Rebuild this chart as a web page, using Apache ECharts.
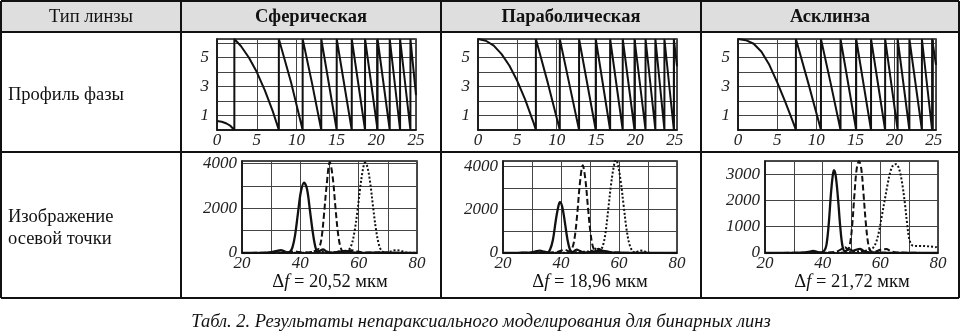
<!DOCTYPE html>
<html>
<head>
<meta charset="utf-8">
<script src="https://cdn.jsdelivr.net/npm/echarts@6/dist/echarts.min.js"></script>
<style>
  html, body { margin: 0; padding: 0; background: #fff; }
  #chart { width: 962px; height: 334px; }
</style>
</head>
<body>
<div id="chart"></div>
<script>
// column headers and row titles
const lensTypes = ['Сферическая', 'Параболическая', 'Асклинза'];
const rowTitles = ['Тип линзы', 'Профиль фазы', 'Изображение', 'осевой точки'];
const focusSpread = ['20,52', '18,96', '21,72'];
const caption = 'Табл. 2. Результаты непараксиального моделирования для бинарных линз';

// phase profile (radius, phase)
const phaseSpherical = [
  [0, 0.62], [0.6, 0.57], [1.2, 0.45], [1.7, 0.28], [2.18, 0],
  [2.18, 6.28], [3, 5.8], [4, 5.0], [5, 4.0], [6, 2.75], [7, 1.3], [7.77, 0],
  [7.77, 6.28], [9.3, 3.3], [10.76, 0],
  [10.76, 6.28], [11.95, 3.2], [13.1, 0],
  [13.1, 6.28], [15.04, 0],
  [15.04, 6.28], [16.93, 0],
  [16.93, 6.28], [18.6, 0],
  [18.6, 6.28], [20.17, 0],
  [20.17, 6.28], [21.7, 0],
  [21.7, 6.28], [23.0, 0],
  [23.0, 6.28], [24.3, 0],
  [24.3, 6.28], [25.0, 2.4]
];
const phaseParabolic = [
  [0, 6.28], [1, 6.16], [2, 5.82], [3, 5.24], [4, 4.43], [5, 3.38], [6, 2.1], [7, 0.6], [7.36, 0],
  [7.36, 6.28], [8.9, 3.2], [10.4, 0],
  [10.4, 6.28], [11.6, 3.2], [12.85, 0],
  [12.85, 6.28], [14.97, 0],
  [14.97, 6.28], [16.8, 0],
  [16.8, 6.28], [18.4, 0],
  [18.4, 6.28], [19.9, 0],
  [19.9, 6.28], [21.3, 0],
  [21.3, 6.28], [22.55, 0],
  [22.55, 6.28], [23.7, 0],
  [23.7, 6.28], [24.9, 0],
  [24.9, 6.28], [25.3, 4.4]
];
const phaseAxilens = [
  [0, 6.28], [1, 6.2], [2, 5.95], [3, 5.4], [4, 4.5], [5, 3.3], [6, 2.0], [7, 0.6], [7.4, 0],
  [7.4, 6.28], [9.0, 3.2], [10.6, 0],
  [10.6, 6.28], [11.85, 3.2], [13.1, 0],
  [13.1, 6.28], [15.1, 0],
  [15.1, 6.28], [17.0, 0],
  [17.0, 6.28], [18.8, 0],
  [18.8, 6.28], [20.4, 0],
  [20.4, 6.28], [21.9, 0],
  [21.9, 6.28], [23.5, 0],
  [23.5, 6.28], [24.8, 0],
  [24.8, 6.28], [25.3, 4.5]
];
const phaseMax = [25, 25.3, 25.3];

// axial intensity (position in um, intensity): solid, dashed, dotted
const sphSolid = [[20, 0], [24, 10], [27, 5], [30, 40], [32, 100], [33.3, 130], [34.5, 80], [35.5, 20], [36.5, 60], [37.3, 250], [38.2, 800], [39.2, 1800], [40.2, 2750], [41.3, 3150], [42.3, 2850], [43.3, 1900], [44.3, 900], [45.2, 250], [46, 40], [46.8, 100], [47.8, 160], [48.8, 80], [50, 20], [52, 30], [54, 70], [55.5, 90], [57, 50], [59, 20], [62, 10], [66, 20], [70, 10], [75, 5], [80, 0]];
const sphDashed = [[20, 0], [28, 10], [33, 20], [36, 40], [38, 70], [39.5, 40], [42, 20], [44, 60], [45.5, 120], [46.5, 250], [47.3, 700], [48.1, 1700], [49, 3000], [50.1, 4080], [51.1, 3400], [52, 2100], [52.9, 900], [53.8, 250], [54.8, 60], [56, 80], [57.5, 120], [59, 90], [61, 30], [64, 20], [68, 30], [72, 10], [80, 0]];
const sphDotted = [[20, 0], [30, 5], [40, 10], [44, 40], [46, 90], [48, 60], [50, 20], [52, 40], [54, 90], [55.5, 60], [56.5, 120], [57.5, 350], [58.5, 900], [59.5, 1800], [60.5, 2900], [61.4, 3700], [62.2, 4050], [63, 3850], [64, 3100], [65, 2000], [66, 1000], [67, 350], [68, 80], [69.3, 20], [70.8, 60], [72.5, 120], [74, 110], [75.5, 50], [77, 15], [80, 5]];

const parSolid = [[20, 0], [25, 10], [29, 20], [31, 60], [32.7, 110], [34.2, 60], [35.3, 30], [36.2, 150], [37.2, 600], [38.2, 1500], [39, 2100], [39.6, 2350], [40.4, 2150], [41.3, 1450], [42.2, 650], [43.1, 150], [44, 40], [45.4, 160], [46.6, 90], [48, 20], [50, 40], [52, 80], [54.6, 100], [56.5, 50], [58, 20], [62, 10], [70, 5], [80, 0]];
const parDashed = [[20, 0], [30, 10], [36, 20], [39, 60], [41.3, 150], [42.8, 80], [43.8, 200], [44.7, 700], [45.6, 1800], [46.5, 3200], [47.5, 4050], [48.4, 3400], [49.3, 2100], [50.2, 900], [51.1, 250], [52, 150], [53, 200], [54.5, 80], [56, 30], [60, 20], [65, 10], [80, 0]];
const parDotted = [[20, 0], [30, 5], [40, 10], [45, 30], [48, 60], [50, 80], [51.5, 150], [52.4, 220], [53.3, 150], [54.2, 250], [55.2, 800], [56.2, 1900], [57.2, 3100], [58.2, 4000], [58.9, 4300], [59.6, 4100], [60.6, 3300], [61.6, 2200], [62.6, 1100], [63.6, 400], [64.6, 100], [65.6, 20], [66.5, 70], [67.5, 110], [68.5, 90], [69.5, 30], [71, 5], [80, 0]];

const axSolid = [[20, 0], [30, 5], [34, 20], [35.5, 50], [36.7, 80], [38, 40], [39.5, 20], [40.5, 80], [41.3, 300], [42.1, 1100], [42.9, 2300], [43.5, 2950], [43.9, 3150], [44.5, 2950], [45.3, 2100], [46.1, 1000], [46.9, 250], [47.8, 60], [48.6, 120], [49.4, 140], [50.5, 80], [51.5, 120], [52.9, 160], [54, 90], [55.5, 30], [58, 20], [62, 10], [70, 5], [80, 0]];
const axDashed = [[20, 0], [35, 10], [42, 20], [45, 60], [46.5, 150], [47.7, 220], [48.7, 150], [49.4, 300], [50.2, 1000], [51, 2200], [51.8, 3200], [52.6, 3500], [53.4, 3200], [54.2, 2200], [55, 1100], [55.8, 350], [56.6, 80], [58, 50], [60, 120], [62.1, 150], [63.5, 80], [65, 30], [70, 10], [80, 0]];
const axDotted = [[20, 0], [40, 5], [48, 20], [52, 60], [54, 80], [55.5, 100], [56.8, 150], [57.5, 200], [58.5, 400], [59.5, 800], [60.5, 1400], [61.5, 2000], [62.5, 2600], [63.5, 3100], [64.5, 3350], [65.5, 3380], [66.5, 3200], [67.5, 2700], [68.5, 1900], [69.3, 1100], [70, 550], [70.8, 320], [71.8, 270], [74, 270], [76, 260], [78, 240], [79.4, 220], [80, 120]];

const intensityMax = [4120, 4250, 3500];
const intensityLabelStep = [2000, 2000, 1000];

const serif = '"Liberation Serif", "DejaVu Serif", serif';
const chart = echarts.init(document.getElementById('chart'));

const phaseGrids = [
  { left: 217, top: 39, width: 199, height: 91 },
  { left: 478, top: 39, width: 199, height: 91 },
  { left: 738, top: 39, width: 198, height: 91 }
];
const intensityGrids = [
  { left: 242, top: 161, width: 175, height: 92 },
  { left: 503, top: 161, width: 174, height: 92 },
  { left: 765, top: 161, width: 173, height: 92 }
];
const deltaCenters = [330, 590, 852];

const labelStyle = { fontFamily: serif, fontStyle: 'italic', fontSize: 17, color: '#222' };
const splitStyle = { show: true, lineStyle: { color: '#444', width: 1 } };

const grids = [];
const xAxes = [];
const yAxes = [];
const series = [];

phaseGrids.forEach((g, i) => {
  grids.push(Object.assign({ show: true, borderColor: '#111', borderWidth: 1.5 }, g));
  xAxes.push({
    type: 'value', gridIndex: i, min: 0, max: phaseMax[i], interval: 5,
    axisLine: { lineStyle: { color: '#111', width: 1.5 } }, axisTick: { show: false },
    splitLine: splitStyle,
    axisLabel: Object.assign({ margin: 2, formatter: v => (v % 5 === 0 ? v : '') }, labelStyle)
  });
  yAxes.push({
    type: 'value', gridIndex: i, min: 0, max: 6.28, interval: 1,
    axisLine: { lineStyle: { color: '#111', width: 1.5 } }, axisTick: { show: false },
    splitLine: splitStyle,
    axisLabel: Object.assign({ margin: 8, formatter: v => (v === 1 || v === 3 || v === 5 ? v : '') }, labelStyle)
  });
});

intensityGrids.forEach((g, i) => {
  const step = intensityLabelStep[i];
  grids.push(Object.assign({ show: true, borderColor: '#111', borderWidth: 1.5 }, g));
  xAxes.push({
    type: 'value', gridIndex: i + 3, min: 20, max: 80, interval: 10,
    axisLine: { lineStyle: { color: '#111', width: 1.5 } }, axisTick: { show: false },
    splitLine: splitStyle,
    axisLabel: Object.assign({ margin: 2, formatter: v => (v % 20 === 0 ? v : '') }, labelStyle)
  });
  yAxes.push({
    type: 'value', gridIndex: i + 3, min: 0, max: intensityMax[i], interval: 1000,
    axisLine: { lineStyle: { color: '#111', width: 1.5 } }, axisTick: { show: false },
    splitLine: splitStyle,
    axisLabel: Object.assign({ margin: 5, formatter: v => (v % step === 0 ? v : '') }, labelStyle)
  });
});

const lineSeries = (data, idx, type, width) => ({
  type: 'line', xAxisIndex: idx, yAxisIndex: idx, data: data,
  showSymbol: false, symbol: 'none', silent: true, animation: false,
  smooth: type === 'phase' ? false : 0.35,
  lineStyle: {
    color: '#111', width: width,
    type: type === 'dashed' ? [6, 3] : type === 'dotted' ? [2, 2] : 'solid'
  }
});

[phaseSpherical, phaseParabolic, phaseAxilens].forEach((d, i) => series.push(lineSeries(d, i, 'phase', 2)));
[[sphSolid, sphDashed, sphDotted], [parSolid, parDashed, parDotted], [axSolid, axDashed, axDotted]].forEach((set, i) => {
  series.push(lineSeries(set[0], i + 3, 'solid', 2.3));
  series.push(lineSeries(set[1], i + 3, 'dashed', 2));
  series.push(lineSeries(set[2], i + 3, 'dotted', 2));
});

// table frame
const border = { stroke: '#111', lineWidth: 2 };
const hLine = (y) => ({ type: 'line', shape: { x1: 1, y1: y, x2: 959, y2: y }, style: border, z: 10 });
const vLine = (x) => ({ type: 'line', shape: { x1: x, y1: 1, x2: x, y2: 298 }, style: border, z: 10 });
const text = (t, x, y, font, align) => ({
  type: 'text', x: x, y: y, z: 11,
  style: { text: t, font: font, fill: '#111', textAlign: align || 'center', textVerticalAlign: 'middle' }
});

const graphics = [
  { type: 'rect', shape: { x: 1, y: 1, width: 958, height: 31 }, style: { fill: '#dedede' }, z: 0 },
  hLine(1), hLine(32), hLine(152), hLine(298),
  vLine(1), vLine(181), vLine(441), vLine(701), vLine(959),
  text(rowTitles[0], 91, 17, '18.5px ' + serif),
  text(lensTypes[0], 311, 17, 'bold 18.5px ' + serif),
  text(lensTypes[1], 571, 17, 'bold 18.5px ' + serif),
  text(lensTypes[2], 830, 17, 'bold 18.5px ' + serif),
  text(rowTitles[1], 8, 95, '18.5px ' + serif, 'left'),
  text(rowTitles[2], 8, 217, '18.5px ' + serif, 'left'),
  text(rowTitles[3], 8, 239, '18.5px ' + serif, 'left'),
  text(caption, 481, 322, 'italic 18.5px ' + serif)
];

// Δf labels under the intensity plots
focusSpread.forEach((v, i) => {
  graphics.push({
    type: 'text', x: deltaCenters[i], y: 282, z: 11,
    style: {
      text: '{d|Δ}{f|f}{t| = ' + v + ' мкм}',
      textAlign: 'center', textVerticalAlign: 'middle',
      rich: {
        d: { font: '18.5px ' + serif, fill: '#111' },
        f: { font: 'italic 18.5px ' + serif, fill: '#111' },
        t: { font: '18.5px ' + serif, fill: '#111' }
      }
    }
  });
});

chart.setOption({
  animation: false,
  grid: grids,
  xAxis: xAxes,
  yAxis: yAxes,
  series: series,
  graphic: graphics
});
</script>
</body>
</html>
